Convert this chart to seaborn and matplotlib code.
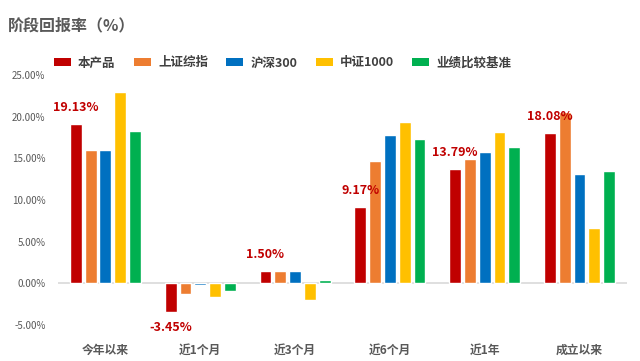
import matplotlib
matplotlib.use('Agg')
import matplotlib.pyplot as plt
from matplotlib.patches import Patch
import seaborn as sns
import pandas as pd

sns.set_style('white')
plt.rcParams['font.family'] = ['Noto Sans CJK SC', 'DejaVu Sans']

periods = ['今年以来', '近1个月', '近3个月', '近6个月', '近1年', '成立以来']
series = ['本产品', '上证综指', '沪深300', '中证1000', '业绩比较基准']
colors = ['#C00000', '#ED7D31', '#0070C0', '#FFC000', '#00B050']

product = [19.13, -3.45, 1.50, 9.17, 13.79, 18.08]
sh_index = [16.0, -1.33, 1.45, 14.7, 14.9, 20.6]
hs300 = [16.0, -0.2, 1.5, 17.8, 15.8, 13.1]
zz1000 = [23.0, -1.65, -2.05, 19.4, 18.2, 6.6]
benchmark = [18.3, -0.93, 0.36, 17.35, 16.4, 13.5]

yticks = [-5, 0, 5, 10, 15, 20, 25]

rows = []
for name, vals in zip(series, [product, sh_index, hs300, zz1000, benchmark]):
    for p, v in zip(periods, vals):
        rows.append({'period': p, 'series': name, 'value': v})
df = pd.DataFrame(rows)

fig = plt.figure(figsize=(6.4, 3.61), dpi=100)
ax = fig.add_axes([0.0906, 0.078, 0.889, 0.736])

sns.barplot(data=df, x='period', y='value', hue='series', hue_order=series,
            palette=colors, width=0.78, gap=0.2, ax=ax, legend=False,
            saturation=1)

ax.set_ylim(-6, 26)
ax.set_xlim(-0.5, 5.5)
ax.axhline(0, color='#D9D9D9', lw=1.2, zorder=0.5)
for s in ax.spines.values():
    s.set_visible(False)
ax.set_xlabel('')
ax.set_ylabel('')
ax.set_yticks(yticks)
ax.set_yticklabels([f'{t:.2f}%' for t in yticks], fontsize=7, color='#595959')
ax.tick_params(axis='y', length=0, pad=9)
ax.tick_params(axis='x', length=0, pad=8)
for lab in ax.get_xticklabels():
    lab.set_fontsize(8.5)
    lab.set_fontweight('bold')
    lab.set_color('#595959')

ax.bar_label(ax.containers[0], labels=[f'{v:.2f}%' for v in product],
             padding=7, color='#C00000', fontsize=9, fontweight='bold', zorder=10)

fig.text(0.013, 0.93, '阶段回报率（%）', fontsize=11.5, fontweight='bold',
         color='#595959', va='center', ha='left')

handles = [Patch(facecolor=c, edgecolor='none') for c in colors]
leg = fig.legend(handles, series, loc='center left', bbox_to_anchor=(0.084, 0.826),
                 ncol=5, frameon=False, handlelength=1.35, handleheight=0.55,
                 handletextpad=0.6, columnspacing=1.45, borderaxespad=0,
                 borderpad=0, prop={'size': 9, 'weight': 'bold'})
for t in leg.get_texts():
    t.set_color('#404040')

plt.savefig('out.png', dpi=100)
plt.close()
